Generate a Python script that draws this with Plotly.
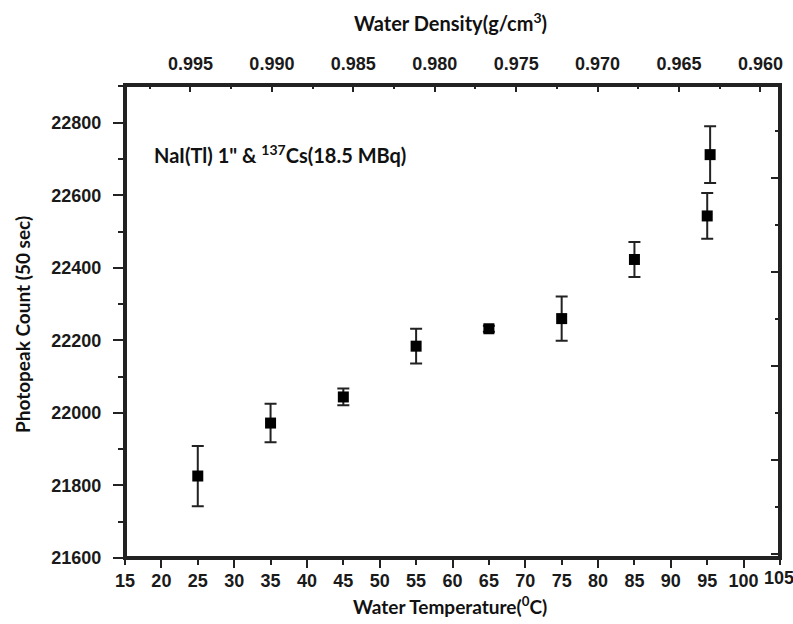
import plotly.graph_objects as go

# Data
temperature_c = [25, 35, 45, 55, 65, 75, 85, 95, 95.4]
photopeak_count = [21826, 21972, 22044, 22184, 22232, 22260, 22423, 22543, 22712]
count_error = [83, 53, 23, 48, 8, 61, 48, 63, 78]

x_range = [15, 105]
y_range = [21600, 22904]
density_range = [0.99902, 0.9588]
x_tick_values = list(range(15, 106, 5))

W, H = 793, 624
L, R, T, B = 125, 13, 85, 66
PW, PH = W - L - R, H - T - B

def px(x):
    return (x - L) / PW

def py(y):
    return (H - B - y) / PH

tick_font = dict(family="Liberation Sans", size=18, color="#1a1a1a", weight="bold")
axis_col = "#222222"

fig = go.Figure()
# plot frame along the axis ranges
fig.add_trace(go.Scatter(
    x=[x_range[0], x_range[1], x_range[1], x_range[0], x_range[0]],
    y=[y_range[0], y_range[0], y_range[1], y_range[1], y_range[0]],
    mode="lines", line=dict(color=axis_col, width=4), hoverinfo="skip",
    showlegend=False,
))
fig.add_trace(go.Scatter(
    x=temperature_c, y=photopeak_count, mode="markers",
    marker=dict(symbol="square", size=11, color="black"),
    error_y=dict(type="data", array=count_error, visible=True,
                 color="#222222", thickness=2, width=6),
    showlegend=False,
))

# the last bottom label sits on the window edge; draw it as an annotation so it is kept
x_tick_text = [str(v) for v in x_tick_values[:-1]] + [""]

fig.update_layout(
    width=W, height=H,
    margin=dict(l=L, r=R, t=T, b=B, autoexpand=False),
    paper_bgcolor="white", plot_bgcolor="white",
    xaxis=dict(range=x_range, tickmode="array", tickvals=x_tick_values,
               ticktext=x_tick_text, ticks="outside", ticklen=5,
               tickwidth=2, tickcolor=axis_col, showline=True, linewidth=2,
               linecolor=axis_col, showgrid=False, zeroline=False,
               tickfont=tick_font, ticklabelstandoff=0),
    xaxis3=dict(range=x_range, overlaying="x", side="bottom", dtick=10, tick0=20,
                ticks="outside", ticklen=9, tickwidth=2, tickcolor=axis_col,
                showticklabels=False, showline=False, showgrid=False, zeroline=False),
    xaxis2=dict(range=density_range, overlaying="x", side="top", dtick=0.005,
                tick0=0.96, tickformat=".3f", ticks="inside", ticklen=7, tickwidth=2,
                tickcolor=axis_col, showline=True, linewidth=2, linecolor=axis_col,
                showgrid=False, zeroline=False, tickfont=tick_font,
                ticklabelstandoff=6,
                minor=dict(dtick=0.0025, tick0=0.96, ticks="inside", ticklen=4,
                           tickwidth=2, tickcolor=axis_col)),
    yaxis=dict(range=y_range, dtick=200, tick0=21600, ticks="outside", ticklen=10,
               tickwidth=2, tickcolor=axis_col, showline=True, linewidth=2,
               linecolor=axis_col, showgrid=False, zeroline=False,
               tickfont=tick_font, tickformat="d", ticklabelstandoff=8,
               minor=dict(dtick=100, tick0=21600, ticks="outside", ticklen=5,
                          tickwidth=2, tickcolor=axis_col)),
    yaxis2=dict(range=[0, PH], overlaying="y", side="right", dtick=94, tick0=98,
                ticks="inside", ticklen=9, tickwidth=2, tickcolor=axis_col,
                showticklabels=False, showline=True, linewidth=2, linecolor=axis_col,
                showgrid=False, zeroline=False,
                minor=dict(dtick=47, tick0=51, ticks="inside", ticklen=5,
                           tickwidth=2, tickcolor=axis_col)),
    annotations=[
        dict(text="Water Density(g/cm<sup>3</sup>)", xref="paper", yref="paper",
             x=px(450), y=py(22), xanchor="center", yanchor="middle",
             showarrow=False,
             font=dict(family="Lato", size=20, color="#111111", weight="bold")),
        dict(text="Water Temperature(<sup>0</sup>C)", xref="paper", yref="paper",
             x=px(450), y=py(605), xanchor="center", yanchor="middle",
             showarrow=False,
             font=dict(family="Lato", size=19, color="#111111", weight="bold")),
        dict(text="Photopeak Count (50 sec)", xref="paper", yref="paper",
             x=px(22), y=py(325), xanchor="center", yanchor="middle",
             textangle=-90, showarrow=False,
             font=dict(family="Lato", size=19, color="#111111", weight="bold")),
        dict(text="NaI(Tl) 1\" & <sup>137</sup>Cs(18.5 MBq)", xref="paper", yref="paper",
             x=px(152), y=py(154), xanchor="left", yanchor="middle",
             showarrow=False,
             font=dict(family="Lato", size=20, color="#111111", weight="bold")),
        dict(text=str(x_tick_values[-1]), xref="x", yref="paper",
             x=x_tick_values[-1], y=py(578), xanchor="center", yanchor="middle",
             xshift=-1, showarrow=False, font=tick_font),
    ],
)

# activate the overlaying axes
fig.add_trace(go.Scatter(x=[None], y=[None], xaxis="x2", yaxis="y", showlegend=False, hoverinfo="skip"))
fig.add_trace(go.Scatter(x=[None], y=[None], xaxis="x3", yaxis="y", showlegend=False, hoverinfo="skip"))
fig.add_trace(go.Scatter(x=[None], y=[None], xaxis="x", yaxis="y2", showlegend=False, hoverinfo="skip"))

fig.write_html(
    "out.html",
    config={"displayModeBar": False},
    post_script="document.body.style.margin='0';document.body.style.overflow='hidden';",
)
